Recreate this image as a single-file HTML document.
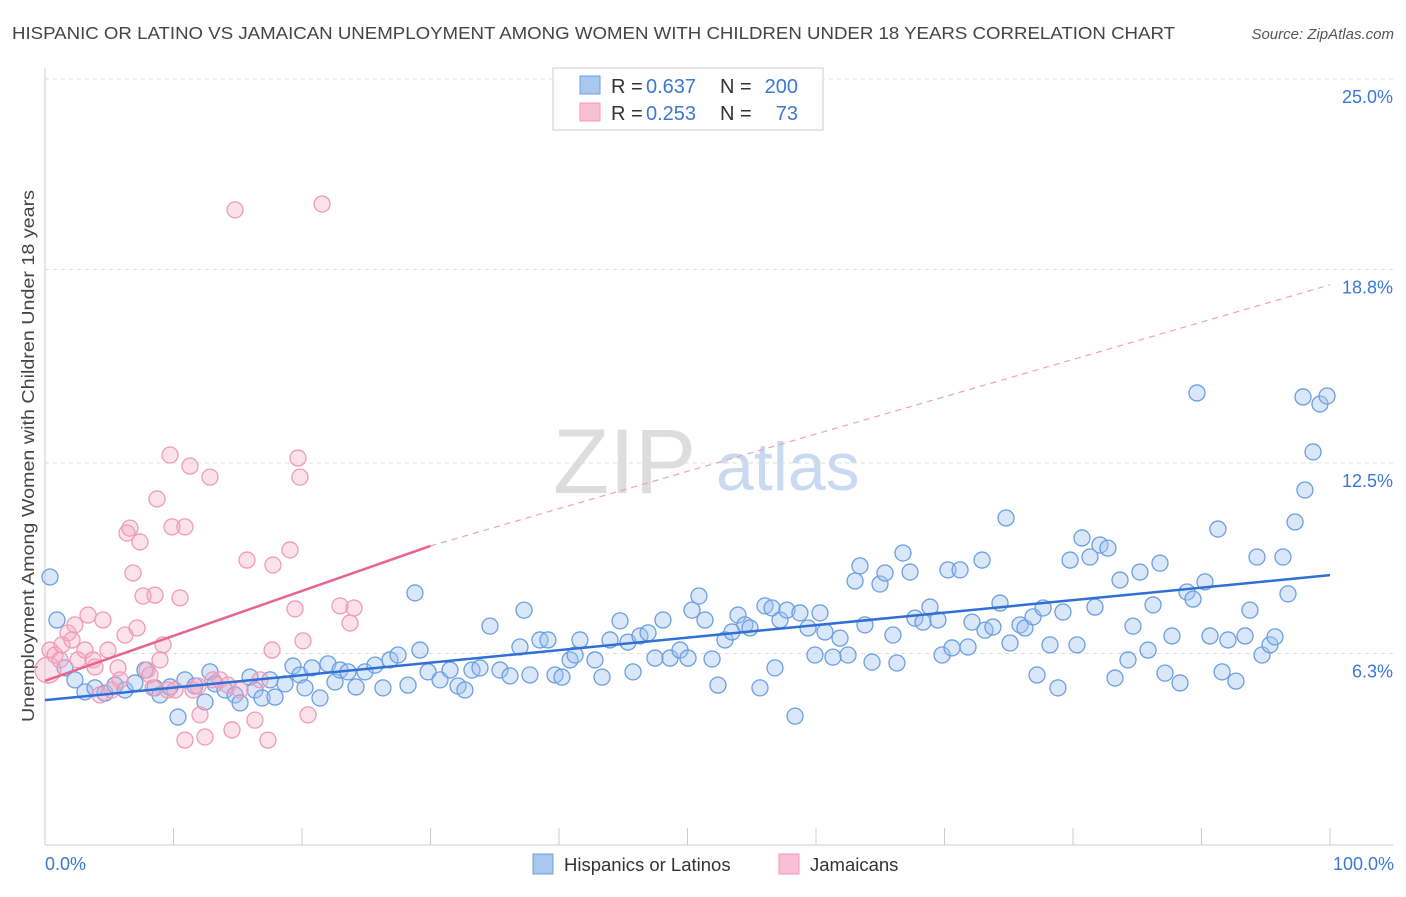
<!DOCTYPE html>
<html><head><meta charset="utf-8"><style>
body{margin:0;background:#fff;font-family:"Liberation Sans",sans-serif;}
svg text{font-family:"Liberation Sans",sans-serif;}
</style></head><body>
<svg id="chart" width="1406" height="892" xmlns="http://www.w3.org/2000/svg">
<text x="12" y="39" font-size="17.5" fill="#444" textLength="1163" lengthAdjust="spacingAndGlyphs">HISPANIC OR LATINO VS JAMAICAN UNEMPLOYMENT AMONG WOMEN WITH CHILDREN UNDER 18 YEARS CORRELATION CHART</text>
<text x="1394" y="39" font-size="15" fill="#555" text-anchor="end" font-style="italic">Source: ZipAtlas.com</text>
<g>
<text x="553" y="493" font-size="92" fill="#ddd" font-family="Liberation Serif,serif">ZIP</text>
<text x="716" y="490" font-size="68" fill="#c9daf0">atlas</text>
</g>
<g id="grid"></g>
<line x1="45" y1="68" x2="45" y2="845" stroke="#ccc"/>
<line x1="45" y1="845" x2="1393" y2="845" stroke="#ccc"/>
<text transform="translate(34,456) rotate(-90)" font-size="17.5" fill="#444" text-anchor="middle" textLength="532" lengthAdjust="spacingAndGlyphs">Unemployment Among Women with Children Under 18 years</text>
<text x="45" y="870" font-size="18" fill="#3a78d4">0.0%</text>
<text x="1394" y="870" font-size="18" fill="#3a78d4" text-anchor="end">100.0%</text>
<g id="pts"></g>
<g id="trend"></g>
<g>
<rect x="553" y="68" width="270" height="62" fill="#fff" stroke="#ccc"/>
<rect x="580" y="76" width="20" height="18" fill="#a8c8f0" stroke="#6a9fe0"/>
<rect x="580" y="103" width="20" height="18" fill="#f8c0d4" stroke="#f09ab8"/>
<text x="611" y="93" font-size="20" fill="#333">R =</text><text x="646" y="93" font-size="20" fill="#3a78d4">0.637</text>
<text x="720" y="93" font-size="20" fill="#333">N =</text><text x="798" y="93" font-size="20" fill="#3a78d4" text-anchor="end">200</text>
<text x="611" y="120" font-size="20" fill="#333">R =</text><text x="646" y="120" font-size="20" fill="#3a78d4">0.253</text>
<text x="720" y="120" font-size="20" fill="#333">N =</text><text x="798" y="120" font-size="20" fill="#3a78d4" text-anchor="end">73</text>
</g>
<g>
<rect x="533" y="854" width="20" height="20" fill="#a8c8f0" stroke="#6a9fe0"/>
<text x="564" y="871" font-size="18.5" fill="#333">Hispanics or Latinos</text>
<rect x="779" y="854" width="20" height="20" fill="#f8c0d4" stroke="#f09ab8"/>
<text x="810" y="871" font-size="18.5" fill="#333">Jamaicans</text>
</g>
</svg>
<script>
const yTicks=[25,18.8,12.5,6.3];
const yTickLabels=["25.0%","18.8%","12.5%","6.3%"];
const xTicks=[10,20,30,40,50,60,70,80,90,100];
const bluePx=[[50,577],[57,620],[65,668],[75,680],[85,692],[95,688],[105,693],[115,685],[125,690],[135,683],[145,670],[155,688],[160,695],[170,687],[178,717],[185,680],[195,686],[205,702],[210,672],[215,684],[225,690],[235,695],[240,703],[250,677],[255,690],[262,698],[270,680],[275,697],[285,684],[293,666],[300,675],[305,688],[312,668],[320,698],[328,664],[335,682],[340,670],[348,672],[356,687],[365,672],[375,665],[383,688],[390,660],[398,655],[408,685],[415,593],[420,650],[428,672],[440,680],[450,670],[458,686],[465,690],[472,670],[480,668],[490,626],[500,670],[510,676],[520,647],[524,610],[530,675],[540,640],[548,640],[555,675],[562,677],[570,660],[575,655],[580,640],[595,660],[602,677],[610,640],[620,621],[628,642],[633,672],[640,636],[648,633],[655,658],[663,620],[670,658],[680,650],[688,658],[692,610],[699,596],[705,620],[712,659],[718,685],[725,640],[732,632],[738,615],[745,625],[750,628],[760,688],[765,606],[772,608],[775,668],[780,620],[787,610],[795,716],[800,613],[808,628],[815,655],[820,613],[825,632],[833,657],[840,638],[848,655],[855,581],[860,566],[865,625],[872,662],[880,584],[885,573],[893,635],[897,663],[903,553],[910,572],[915,618],[923,622],[930,607],[938,620],[942,655],[948,570],[952,648],[960,570],[968,647],[972,622],[982,560],[985,630],[993,627],[1000,603],[1006,518],[1010,643],[1020,625],[1025,628],[1033,617],[1037,675],[1043,608],[1050,645],[1058,688],[1063,612],[1070,560],[1077,645],[1082,538],[1090,557],[1095,607],[1100,545],[1108,548],[1115,678],[1120,580],[1128,660],[1133,626],[1140,572],[1148,650],[1153,605],[1160,563],[1165,673],[1172,636],[1180,683],[1187,592],[1193,599],[1197,393],[1205,582],[1210,636],[1218,529],[1222,672],[1228,640],[1236,681],[1245,636],[1250,610],[1257,557],[1262,655],[1270,645],[1275,637],[1283,557],[1288,594],[1295,522],[1305,490],[1313,452],[1303,397],[1320,404],[1327,396]];
const pinkPx=[[48,670],[50,650],[55,655],[60,660],[62,645],[68,633],[72,640],[75,625],[78,660],[85,650],[88,615],[93,660],[95,667],[100,695],[103,620],[108,650],[112,690],[118,668],[120,680],[125,635],[127,533],[130,528],[133,573],[137,628],[140,542],[143,596],[147,670],[150,675],[153,688],[155,595],[157,499],[160,660],[163,645],[168,690],[170,455],[172,527],[175,690],[180,598],[185,527],[190,466],[193,690],[198,686],[200,715],[205,737],[210,477],[213,680],[220,680],[228,685],[232,730],[235,210],[240,690],[247,560],[255,720],[260,680],[268,740],[273,565],[272,650],[290,550],[295,609],[298,458],[300,477],[303,641],[308,715],[322,204],[340,606],[350,623],[354,608],[185,740]];
const blueX=bluePx.map(p=>+((p[0]-45)/12.85).toFixed(2));
const blueY=bluePx.map(p=>+((847-p[1])/30.72).toFixed(2));
const pinkX=pinkPx.map(p=>+((p[0]-45)/12.85).toFixed(2));
const pinkY=pinkPx.map(p=>+((847-p[1])/30.72).toFixed(2));
const blueTrend=[[0,4.78],[100,8.85]];
const pinkTrend=[[0,5.41],[30,9.8],[100,18.3]];
const xs=v=>45+v*12.85, ys=v=>847-v*30.72;
const NS="http://www.w3.org/2000/svg";
function mk(t,a,parent){const e=document.createElementNS(NS,t);for(const k in a)e.setAttribute(k,a[k]);document.getElementById(parent).appendChild(e);return e;}
yTicks.forEach((t,i)=>{
 const l=mk('line',{x1:45,x2:1393,y1:ys(t),y2:ys(t),stroke:'#ddd','stroke-dasharray':'4,4'},'grid');
 
 
 const tx=mk('text',{x:1393,y:ys(t)+24,'font-size':18,fill:'#3a78d4','text-anchor':'end'},'grid');
 tx.textContent=yTickLabels[i];
 
 
});
xTicks.forEach(t=>{
 const l=mk('line',{x1:xs(t),x2:xs(t),y1:828,y2:845,stroke:'#ccc'},'grid');
 
 
});
blueX.forEach((x,i)=>{
 const c=mk('circle',{cx:xs(x),cy:ys(blueY[i]),r:8,fill:'rgba(160,196,240,0.4)',stroke:'#6a9fe0','stroke-width':1.3},'pts');
 
 
});
pinkX.forEach((x,i)=>{
 const c=mk('circle',{cx:xs(x),cy:ys(pinkY[i]),r:i==0?13:8,fill:'rgba(244,170,196,0.35)',stroke:'#f09ab8','stroke-width':1.3},'pts');
 
 
});
const bt=mk('line',{x1:xs(blueTrend[0][0]),y1:ys(blueTrend[0][1]),x2:xs(blueTrend[1][0]),y2:ys(blueTrend[1][1]),stroke:'#2f6fd6','stroke-width':2.5},'trend');


const pt=mk('line',{x1:xs(pinkTrend[0][0]),y1:ys(pinkTrend[0][1]),x2:xs(pinkTrend[1][0]),y2:ys(pinkTrend[1][1]),stroke:'#e8648e','stroke-width':2.5},'trend');


const pd=mk('line',{x1:xs(pinkTrend[1][0]),y1:ys(pinkTrend[1][1]),x2:xs(pinkTrend[2][0]),y2:ys(pinkTrend[2][1]),stroke:'#f0a0b8','stroke-width':1.2,'stroke-dasharray':'6,5'},'trend');


</script>
</body></html>
